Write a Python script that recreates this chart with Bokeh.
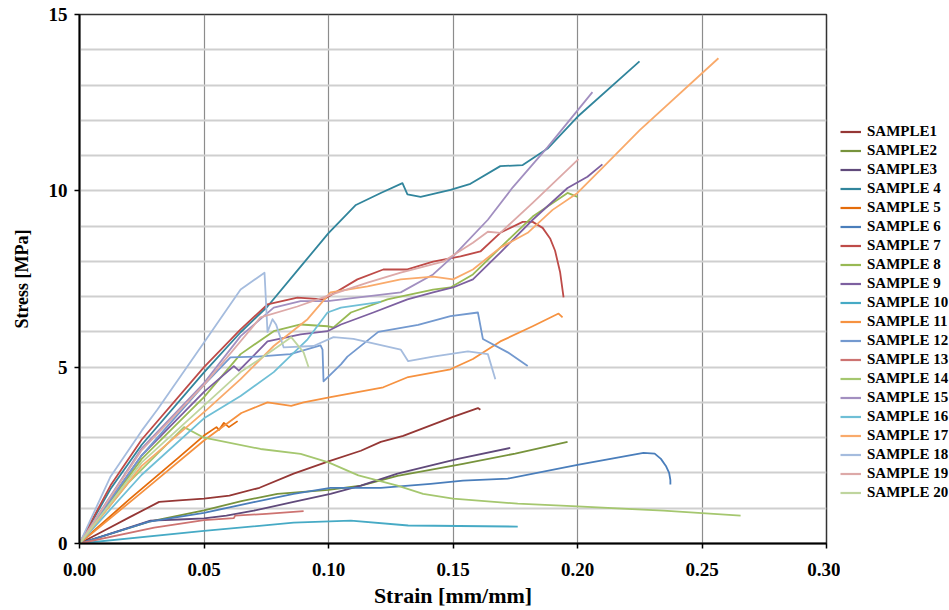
from bokeh.plotting import figure
from bokeh.layouts import row
from bokeh.models import Legend, LegendItem, FixedTicker, SingleIntervalTicker, Range1d, NumeralTickFormatter
from bokeh.embed import file_html
from bokeh.resources import INLINE

labels = ["SAMPLE1", "SAMPLE2", "SAMPLE3"] + ["SAMPLE %d" % i for i in range(4, 21)]
colors = ["#953735", "#77933C", "#604A7B", "#31859C", "#E46C0A", "#4A7EBB", "#BE4B48",
          "#98B954", "#7D60A0", "#46AAC5", "#F69240", "#7399CF", "#CD7371", "#A5C76F",
          "#A28FC0", "#6FBFD6", "#F9AA6B", "#A5BCDE", "#DDA9A8", "#BFD59E"]

s1_x = [0, 0.01, 0.02, 0.032, 0.04, 0.05, 0.0602, 0.0723, 0.086, 0.1, 0.113, 0.121, 0.13, 0.15, 0.16, 0.161]
s1_y = [0, 0.37, 0.74, 1.18, 1.22, 1.27, 1.36, 1.58, 1.98, 2.33, 2.63, 2.88, 3.05, 3.59, 3.84, 3.79]
s2_x = [0, 0.028, 0.05, 0.065, 0.0795, 0.1, 0.113, 0.1277, 0.154, 0.175, 0.196]
s2_y = [0, 0.62, 0.94, 1.2, 1.41, 1.52, 1.64, 1.92, 2.26, 2.55, 2.88]
s3_x = [0, 0.0285, 0.04, 0.05, 0.059, 0.07, 0.086, 0.1008, 0.113, 0.1277, 0.152, 0.173]
s3_y = [0, 0.65, 0.68, 0.71, 0.79, 0.93, 1.18, 1.41, 1.64, 1.98, 2.4, 2.71]
s4_x = [0, 0.0125, 0.025, 0.05, 0.0647, 0.0755, 0.0888, 0.1, 0.111, 0.121, 0.1297, 0.1317, 0.137, 0.149, 0.157, 0.169, 0.178, 0.188, 0.2, 0.2249]
s4_y = [0, 1.55, 2.8, 4.85, 5.99, 6.72, 7.85, 8.8, 9.6, 9.94, 10.22, 9.9, 9.83, 10.03, 10.2, 10.7, 10.73, 11.2, 12.1, 13.67]
s5_x = [0, 0.02, 0.04, 0.05, 0.055, 0.056, 0.058, 0.06, 0.0635]
s5_y = [0, 1.25, 2.45, 3.06, 3.3, 3.22, 3.42, 3.3, 3.47]
s6_x = [0, 0.028, 0.05, 0.07, 0.086, 0.1008, 0.121, 0.141, 0.154, 0.172, 0.2, 0.2265, 0.231, 0.2335, 0.2355, 0.2368, 0.2373, 0.2373]
s6_y = [0, 0.62, 0.87, 1.17, 1.41, 1.58, 1.58, 1.69, 1.78, 1.84, 2.23, 2.57, 2.55, 2.4, 2.2, 2.0, 1.8, 1.67]
s7_x = [0, 0.0125, 0.025, 0.05, 0.0647, 0.0755, 0.0875, 0.098, 0.1116, 0.122, 0.1317, 0.142, 0.153, 0.161, 0.169, 0.178, 0.182, 0.186, 0.189, 0.191, 0.193, 0.1944]
s7_y = [0, 1.65, 2.95, 5.0, 6.07, 6.78, 6.97, 6.92, 7.49, 7.77, 7.77, 7.99, 8.14, 8.28, 8.81, 9.12, 9.12, 8.95, 8.65, 8.3, 7.7, 6.98]
s8_x = [0, 0.025, 0.05, 0.0647, 0.078, 0.0888, 0.0996, 0.102, 0.109, 0.1237, 0.142, 0.149, 0.158, 0.169, 0.182, 0.196, 0.2]
s8_y = [0, 2.4, 4.15, 5.37, 6.02, 6.21, 6.16, 6.13, 6.55, 6.92, 7.2, 7.26, 7.63, 8.39, 9.27, 9.94, 9.83]
s9_x = [0, 0.025, 0.05, 0.062, 0.064, 0.0755, 0.0888, 0.0996, 0.105, 0.118, 0.1317, 0.142, 0.15, 0.158, 0.169, 0.182, 0.196, 0.204, 0.21]
s9_y = [0, 2.5, 4.3, 5.03, 4.9, 5.73, 5.93, 6.02, 6.21, 6.55, 6.92, 7.12, 7.26, 7.49, 8.25, 9.18, 10.08, 10.4, 10.75]
s10_x = [0, 0.05, 0.086, 0.109, 0.132, 0.176]
s10_y = [0, 0.36, 0.59, 0.65, 0.51, 0.48]
s11_x = [0, 0.025, 0.05, 0.065, 0.0755, 0.085, 0.09, 0.1008, 0.122, 0.132, 0.149, 0.158, 0.169, 0.182, 0.1924, 0.194]
s11_y = [0, 1.45, 2.92, 3.7, 4.0, 3.9, 4.0, 4.15, 4.43, 4.72, 4.94, 5.23, 5.73, 6.16, 6.52, 6.41]
s12_x = [0, 0.025, 0.05, 0.0606, 0.0715, 0.0847, 0.0968, 0.0976, 0.098, 0.105, 0.1076, 0.12, 0.136, 0.149, 0.16, 0.162, 0.172, 0.18]
s12_y = [0, 2.5, 4.5, 5.28, 5.3, 5.37, 5.62, 5.5, 4.6, 5.08, 5.3, 6.0, 6.2, 6.45, 6.55, 5.8, 5.42, 5.03]
s13_x = [0, 0.03, 0.05, 0.062, 0.0625, 0.075, 0.09]
s13_y = [0, 0.45, 0.66, 0.72, 0.79, 0.84, 0.92]
s14_x = [0, 0.02, 0.042, 0.05, 0.0727, 0.0888, 0.1, 0.112, 0.1277, 0.138, 0.15, 0.176, 0.2, 0.2345, 0.2655]
s14_y = [0, 1.75, 3.3, 3.0, 2.68, 2.54, 2.3, 1.93, 1.64, 1.41, 1.27, 1.13, 1.05, 0.93, 0.79]
s15_x = [0, 0.025, 0.05, 0.0647, 0.078, 0.0888, 0.0996, 0.129, 0.142, 0.15, 0.164, 0.174, 0.188, 0.206]
s15_y = [0, 2.7, 4.55, 5.88, 6.69, 6.87, 6.87, 7.12, 7.63, 8.14, 9.18, 10.1, 11.24, 12.8]
s16_x = [0, 0.025, 0.05, 0.0647, 0.078, 0.0916, 0.0996, 0.105, 0.121]
s16_y = [0, 1.95, 3.55, 4.18, 4.86, 5.79, 6.55, 6.69, 6.85]
s17_x = [0, 0.025, 0.0514, 0.0647, 0.078, 0.0916, 0.1008, 0.1157, 0.129, 0.142, 0.15, 0.158, 0.169, 0.18, 0.19, 0.2, 0.212, 0.225, 0.2566]
s17_y = [0, 2.2, 3.81, 4.66, 5.6, 6.36, 7.12, 7.29, 7.49, 7.57, 7.49, 7.77, 8.39, 8.81, 9.46, 9.94, 10.79, 11.72, 13.76]
s18_x = [0, 0.0125, 0.025, 0.0313, 0.05, 0.0647, 0.0743, 0.0755, 0.0775, 0.079, 0.082, 0.094, 0.102, 0.11, 0.129, 0.132, 0.142, 0.156, 0.164, 0.167]
s18_y = [0, 1.9, 3.2, 3.8, 5.7, 7.2, 7.68, 6.0, 6.36, 6.2, 5.56, 5.6, 5.85, 5.8, 5.5, 5.17, 5.3, 5.45, 5.37, 4.66]
s19_x = [0, 0.025, 0.05, 0.0727, 0.0875, 0.0996, 0.1157, 0.129, 0.146, 0.158, 0.164, 0.169, 0.182, 0.2004]
s19_y = [0, 2.65, 4.5, 6.41, 6.72, 7.02, 7.4, 7.68, 7.99, 8.53, 8.84, 8.81, 9.66, 10.9]
s20_x = [0, 0.025, 0.0514, 0.0647, 0.078, 0.085, 0.09, 0.092]
s20_y = [0, 2.3, 4.0, 4.86, 5.5, 5.85, 5.42, 5.0]

xs = [s1_x, s2_x, s3_x, s4_x, s5_x, s6_x, s7_x, s8_x, s9_x, s10_x,
      s11_x, s12_x, s13_x, s14_x, s15_x, s16_x, s17_x, s18_x, s19_x, s20_x]
ys = [s1_y, s2_y, s3_y, s4_y, s5_y, s6_y, s7_y, s8_y, s9_y, s10_y,
      s11_y, s12_y, s13_y, s14_y, s15_y, s16_y, s17_y, s18_y, s19_y, s20_y]

x_ticks = [0, 0.05, 0.10, 0.15, 0.20, 0.25, 0.30]
y_ticks = [0, 5, 10, 15]

SERIF = "Liberation Serif"

p = figure(width=840, height=610, output_backend="svg", toolbar_location=None,
           x_range=Range1d(0, 0.30), y_range=Range1d(0, 15),
           min_border_left=79, min_border_right=14, min_border_top=14, min_border_bottom=65)

p.background_fill_color = "white"
p.border_fill_color = "white"
p.outline_line_color = "#333333"
p.outline_line_width = 1.5

p.xgrid.ticker = FixedTicker(ticks=x_ticks)
p.xgrid.grid_line_color = "#8c8c8c"
p.xgrid.grid_line_width = 1.2
p.ygrid.ticker = SingleIntervalTicker(interval=1)
p.ygrid.grid_line_color = "#cfcfcf"
p.ygrid.grid_line_width = 2

for i in range(20):
    p.line(xs[i], ys[i], line_color=colors[i], line_width=1.8, line_join="round")

for ax in (p.xaxis[0], p.yaxis[0]):
    ax.axis_line_color = "black"
    ax.axis_line_width = 2
    ax.major_tick_line_color = "black"
    ax.major_tick_line_width = 1.5
    ax.major_tick_out = 5
    ax.major_tick_in = 0
    ax.minor_tick_line_color = None
    ax.major_label_text_font = SERIF
    ax.major_label_text_font_style = "bold"
    ax.major_label_text_font_size = "19px"
    ax.major_label_text_color = "black"
    ax.axis_label_text_font = SERIF
    ax.axis_label_text_font_style = "bold"
    ax.axis_label_text_color = "black"

p.xaxis[0].ticker = FixedTicker(ticks=x_ticks)
p.xaxis[0].formatter = NumeralTickFormatter(format="0.00")
p.xaxis[0].axis_label = "Strain [mm/mm]"
p.xaxis[0].axis_label_text_font_size = "22px"
p.xaxis[0].major_label_standoff = 14
p.xaxis[0].axis_label_standoff = 4

p.yaxis[0].ticker = FixedTicker(ticks=y_ticks)
p.yaxis[0].axis_label = "Stress [MPa]"
p.yaxis[0].axis_label_text_font_size = "18px"
p.yaxis[0].major_label_standoff = 7
p.yaxis[0].axis_label_standoff = 14

# legend panel (separate narrow figure to the right of the frame)
pl = figure(width=109, height=610, output_backend="svg", toolbar_location=None,
            x_range=Range1d(0, 1), y_range=Range1d(0, 1),
            x_axis_location=None, y_axis_location=None, min_border=0)
pl.grid.visible = False
pl.outline_line_color = None
pl.background_fill_color = "white"
pl.border_fill_color = "white"

items = []
for i in range(20):
    # sample keys: the line itself lies outside the legend panel's visible range
    r = pl.line([5, 6], [5, 5], line_color=colors[i], line_width=2.2)
    items.append(LegendItem(label=labels[i], renderers=[r]))

legend = Legend(items=items, location=(0, 41.5))
legend.padding = 0
legend.margin = 0
legend.spacing = 0
legend.border_line_color = None
legend.background_fill_alpha = 0
legend.glyph_width = 21
legend.glyph_height = 19
legend.label_height = 19
legend.label_standoff = 6
legend.label_text_font = SERIF
legend.label_text_font_style = "bold"
legend.label_text_font_size = "15px"
legend.label_text_color = "black"
pl.add_layout(legend)

layout = row(p, pl)

open("out.html", "w").write(file_html(layout, INLINE))
